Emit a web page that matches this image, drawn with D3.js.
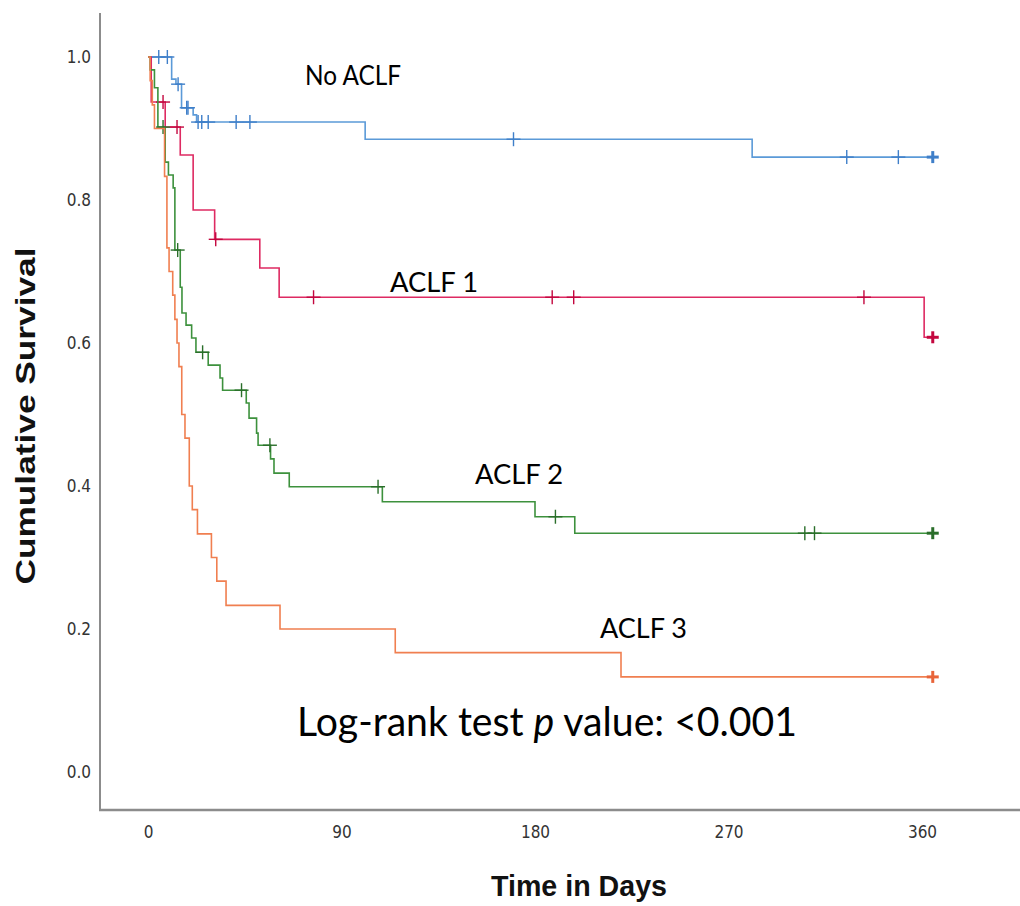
<!DOCTYPE html>
<html>
<head>
<meta charset="utf-8">
<script src="https://cdn.jsdelivr.net/npm/d3@7"></script>
<style>
  body { margin: 0; background: #fff; }
  svg { display: block; }
</style>
</head>
<body>
<div id="chart"></div>
<script>
// Kaplan-Meier curves: [day, survival after the drop]
const noAclfSteps = [[11, 0.969], [13, 0.962], [15.6, 0.929], [21, 0.919], [22.6, 0.909], [101, 0.885], [281, 0.860]];
const noAclfCensor = [5, 9, 14, 18, 18.6, 23.3, 25, 28, 41, 47.4, 170, 325, 349, 365];

const aclf1Steps = [[1.5, 0.937], [8, 0.902], [15, 0.863], [21, 0.786], [31, 0.745], [52, 0.705], [61, 0.664], [361, 0.608]];
const aclf1Censor = [7, 13.5, 31.5, 77, 188, 198, 333, 365];

const aclf2Steps = [[1, 0.982], [3, 0.957], [4.6, 0.902], [8, 0.853], [9.5, 0.835], [11.7, 0.817], [12.5, 0.73],
  [15, 0.678], [15.8, 0.642], [17.7, 0.625], [20.3, 0.607], [22.3, 0.587], [28, 0.569], [33.5, 0.551],
  [34.7, 0.534], [45.7, 0.516], [47, 0.495], [50.5, 0.474], [51.2, 0.457], [57, 0.438], [58.6, 0.418],
  [65.7, 0.399], [109, 0.378], [180, 0.357], [198.5, 0.334]];
const aclf2Censor = [7, 13.8, 25.4, 43.5, 56.7, 107, 189.5, 305.5, 310, 365];

const aclf3Steps = [[1, 0.967], [2, 0.933], [3, 0.9], [7.7, 0.833], [8.8, 0.733], [9.8, 0.7], [11.5, 0.667],
  [12.5, 0.633], [13.5, 0.6], [14.4, 0.567], [15.7, 0.5], [17.2, 0.467], [19.2, 0.4], [20.6, 0.367],
  [23, 0.333], [29.5, 0.3], [32, 0.267], [36.3, 0.233], [61.4, 0.2], [115, 0.167], [220, 0.133]];
const aclf3Censor = [365];

const groupNames = ["No ACLF", "ACLF 1", "ACLF 2", "ACLF 3"];
const xTicks = [0, 90, 180, 270, 360];
const yTicks = [0, 0.2, 0.4, 0.6, 0.8, 1.0];

const W = 1020, H = 906;
const svg = d3.select("#chart").append("svg").attr("width", W).attr("height", H);

const x = d3.scaleLinear().domain([0, 360]).range([148, 922]);
const y = d3.scaleLinear().domain([0, 1]).range([772, 57]);

// axes
const axisColor = "#8c8c8c";
svg.append("line").attr("x1", 100).attr("x2", 100).attr("y1", 13).attr("y2", 811)
  .attr("stroke", axisColor).attr("stroke-width", 2);
svg.append("line").attr("x1", 99).attr("x2", W).attr("y1", 810).attr("y2", 810)
  .attr("stroke", axisColor).attr("stroke-width", 2.5);

const yAxis = svg.append("g").attr("transform", "translate(100,0)")
  .call(d3.axisLeft(y).tickValues(yTicks).tickSize(0).tickPadding(9).tickFormat(d3.format(".1f")));
const xAxis = svg.append("g").attr("transform", "translate(0,810)")
  .call(d3.axisBottom(x).tickValues(xTicks).tickSize(0).tickPadding(16));
[yAxis, xAxis].forEach(a => {
  a.select(".domain").remove();
  a.selectAll("text").attr("font-family", "'DejaVu Sans Condensed', 'Liberation Sans', sans-serif")
    .attr("font-size", 17).attr("fill", "#333");
});

// axis titles
svg.append("text")
  .attr("x", 579).attr("y", 896).attr("text-anchor", "middle")
  .attr("font-family", "'Liberation Sans', Arial, sans-serif").attr("font-weight", "bold")
  .attr("font-size", 29).attr("textLength", 176).attr("lengthAdjust", "spacingAndGlyphs")
  .attr("fill", "#111").text("Time in Days");
svg.append("text")
  .attr("transform", "translate(35,416) rotate(-90)").attr("text-anchor", "middle")
  .attr("font-family", "'Liberation Sans', Arial, sans-serif").attr("font-weight", "bold")
  .attr("font-size", 27).attr("textLength", 337).attr("lengthAdjust", "spacingAndGlyphs")
  .attr("fill", "#111").text("Cumulative Survival");

// curves
const series = [
  { name: groupNames[0], steps: noAclfSteps, censor: noAclfCensor, line: "#5b9ad8", mark: "#3f7fc9" },
  { name: groupNames[1], steps: aclf1Steps, censor: aclf1Censor, line: "#de2a62", mark: "#c3073f" },
  { name: groupNames[2], steps: aclf2Steps, censor: aclf2Censor, line: "#3d913d", mark: "#2a6e2a" },
  { name: groupNames[3], steps: aclf3Steps, censor: aclf3Censor, line: "#f07f50", mark: "#e8643a" }
];

const line = d3.line().x(d => x(d[0])).y(d => y(d[1])).curve(d3.curveStepAfter);

function survAt(steps, t) {
  let s = 1;
  steps.forEach(p => { if (p[0] <= t) s = p[1]; });
  return s;
}

series.forEach(sr => {
  const end = d3.max(sr.censor);
  const pts = [[0, 1]].concat(sr.steps);
  pts.push([end, sr.steps[sr.steps.length - 1][1]]);
  svg.append("path").datum(pts).attr("d", line)
    .attr("fill", "none").attr("stroke", sr.line).attr("stroke-width", 1.6);

  const g = svg.append("g");
  sr.censor.forEach((t, i) => {
    const cx = x(t), cy = y(survAt(sr.steps, t));
    const last = i === sr.censor.length - 1;
    const r = last ? 6 : 7, sw = last ? 3 : 1.4;
    g.append("line").attr("x1", cx).attr("x2", cx).attr("y1", cy - r).attr("y2", cy + r)
      .attr("stroke", sr.mark).attr("stroke-width", sw);
    g.append("line").attr("x1", cx - r).attr("x2", cx + r).attr("y1", cy).attr("y2", cy)
      .attr("stroke", sr.mark).attr("stroke-width", sw);
  });
});

// curve labels
const labelFont = "Lato, 'Open Sans', sans-serif";
const labels = [
  { text: groupNames[0], x: 305, y: 85, w: 96 },
  { text: groupNames[1], x: 390, y: 292, w: 88 },
  { text: groupNames[2], x: 475, y: 484, w: 88 },
  { text: groupNames[3], x: 600, y: 638, w: 87 }
];
labels.forEach(l => {
  svg.append("text").attr("x", l.x).attr("y", l.y)
    .attr("font-family", labelFont).attr("font-size", 27)
    .attr("textLength", l.w).attr("lengthAdjust", "spacingAndGlyphs")
    .attr("fill", "#000").text(l.text);
});

const lr = svg.append("text").attr("x", 297).attr("y", 736)
  .attr("font-family", labelFont).attr("font-size", 40)
  .attr("textLength", 500).attr("lengthAdjust", "spacingAndGlyphs").attr("fill", "#000");
lr.append("tspan").text("Log-rank test ");
lr.append("tspan").attr("font-style", "italic").text("p");
lr.append("tspan").text(" value: <0.001");
</script>
</body>
</html>
